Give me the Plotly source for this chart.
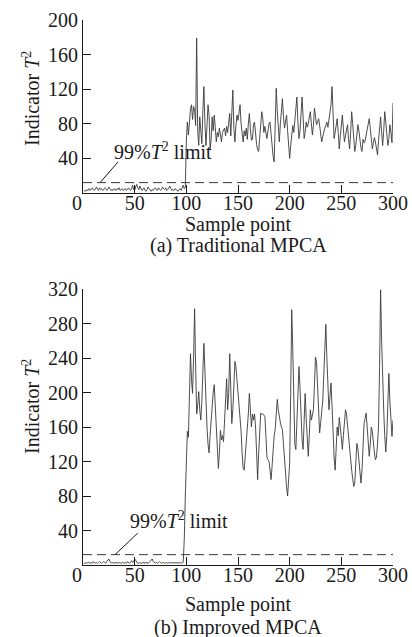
import plotly.graph_objects as go

# ---------------- data ----------------
sample_points = list(range(1, 301))

t2_traditional = [
    2, 3, 2, 4, 3, 5, 3, 4, 6, 4,
    3, 5, 7, 4, 3, 6, 4, 5, 3, 4,
    6, 5, 3, 4, 7, 5, 3, 4, 3, 5,
    4, 3, 5, 4, 6, 3, 4, 5, 3, 4,
    5, 3, 4, 6, 4, 3, 5, 9, 4, 3,
    7, 10, 6, 4, 8, 5, 3, 4, 6, 3,
    2, 4, 7, 5, 3, 2, 4, 3, 5, 6,
    4, 3, 6, 5, 3, 4, 7, 5, 4, 6,
    3, 4, 6, 8, 5, 3, 4, 3, 5, 4,
    3, 2, 4, 5, 3, 7, 9, 5, 6, 60,
    82, 67, 88, 97, 102, 85, 100, 96, 78, 179,
    72, 55, 88, 70, 57, 95, 123, 80, 55, 78,
    102, 90, 50, 62, 88, 72, 90, 76, 59, 70,
    65, 75, 68, 59, 70, 72, 75, 66, 77, 70,
    84, 92, 66, 95, 119, 75, 59, 78, 90, 84,
    95, 102, 80, 68, 59, 72, 66, 75, 62, 80,
    92, 74, 61, 62, 79, 82, 66, 56, 50, 48,
    64, 82, 94, 86, 70, 77, 68, 63, 72, 80,
    82, 66, 50, 42, 36, 70, 121, 95, 72, 59,
    80, 98, 109, 88, 75, 82, 90, 72, 51, 40,
    55, 70, 78, 70, 84, 100, 111, 82, 63, 72,
    95, 111, 88, 63, 70, 82, 76, 80, 88, 94,
    80, 67, 78, 98, 88, 79, 82, 86, 78, 70,
    59, 65, 72, 75, 78, 82, 76, 85, 90, 102,
    123, 90, 63, 70, 80, 86, 70, 51, 66, 82,
    90, 74, 59, 66, 72, 79, 62, 51, 70, 94,
    80, 62, 48, 55, 68, 79, 72, 60, 52, 48,
    62, 58, 60, 67, 74, 80, 86, 75, 62, 51,
    58, 64, 59, 50, 44, 60, 79, 88, 70, 55,
    72, 94, 82, 66, 55, 62, 79, 70, 58, 104,
]

t2_improved = [
    2, 2, 3, 2, 3, 2, 2, 3, 2, 4,
    3, 2, 3, 2, 3, 4, 3, 2, 3, 4,
    3, 2, 4, 5, 7, 4, 3, 2, 3, 2,
    2, 3, 2, 2, 3, 2, 2, 3, 2, 2,
    3, 2, 4, 3, 2, 3, 5, 3, 4, 7,
    5, 3, 2, 2, 3, 2, 2, 3, 2, 2,
    3, 2, 2, 3, 4, 6, 7, 4, 3, 2,
    3, 2, 3, 4, 3, 2, 3, 2, 2, 3,
    2, 2, 3, 2, 3, 2, 2, 3, 2, 3,
    2, 2, 3, 2, 3, 2, 3, 30, 80, 135,
    155, 148, 200, 245, 215, 199, 240, 297, 230, 175,
    185, 201, 180, 168, 190, 230, 257, 225, 185, 160,
    140, 130, 150, 170, 185, 200, 209, 180, 150, 125,
    112, 130, 156, 145, 150, 143, 175, 200, 216, 180,
    200, 245, 210, 164, 180, 210, 236, 230, 215, 200,
    195, 180, 155, 130, 112, 110, 125, 150, 165, 175,
    199, 180, 160, 175, 168, 175, 160, 130, 99, 130,
    165, 176, 175, 175, 174, 172, 150, 125, 122, 120,
    110, 99, 115, 135, 150, 157, 170, 192, 180, 170,
    165, 160, 157, 140, 120, 102, 90, 80, 95, 118,
    200, 296, 250, 180, 140, 134, 160, 200, 230, 205,
    161, 145, 134, 160, 199, 170, 140, 126, 150, 180,
    168, 175, 180, 210, 241, 235, 211, 180, 153, 165,
    180, 190, 220, 250, 279, 240, 200, 180, 195, 211,
    185, 150, 125, 110, 130, 160, 150, 171, 160, 150,
    134, 150, 165, 180, 175, 160, 145, 130, 120, 110,
    100, 91, 95, 115, 141, 135, 120, 105, 95, 110,
    135, 164, 170, 176, 160, 140, 126, 140, 160, 155,
    140, 130, 122, 125, 140, 160, 230, 319, 260, 211,
    180, 150, 131, 150, 185, 222, 190, 160, 149, 168,
]

limit_traditional = 12
limit_improved = 12

x_ticks = [50, 100, 150, 200, 250, 300]
x_tick_text = ["50", "100", "150", "200", "250", "300"]
y_ticks_a = [40, 80, 120, 160, 200]
y_ticks_b = [40, 80, 120, 160, 200, 240, 280, 320]

# ---------------- figure ----------------
W, H = 412, 637
FONT = "Liberation Serif"
FS = 20
INK = "#1a1a1a"
LINE = "#3a3a3a"


def py(px):
    return 1 - px / H


fig = go.Figure()
fig.add_trace(go.Scatter(x=sample_points, y=t2_traditional, mode="lines",
                         line=dict(color=LINE, width=0.9), xaxis="x", yaxis="y",
                         showlegend=False, hoverinfo="skip"))
fig.add_trace(go.Scatter(x=sample_points, y=t2_improved, mode="lines",
                         line=dict(color=LINE, width=0.9), xaxis="x2", yaxis="y2",
                         showlegend=False, hoverinfo="skip"))

xdom = [83 / W, 393 / W]
axis_common = dict(showgrid=False, zeroline=False, showline=True, linecolor=INK,
                   linewidth=1, ticks="inside", ticklen=8, tickcolor=INK, tickwidth=1,
                   automargin=False,
                   tickfont=dict(family=FONT, size=FS, color=INK))

fig.update_layout(
    autosize=True, margin=dict(l=0, r=0, t=0, b=0),
    paper_bgcolor="white", plot_bgcolor="white",
    font=dict(family=FONT, size=FS, color=INK),
    xaxis=dict(domain=xdom, range=[0, 300], tickvals=x_ticks, ticktext=x_tick_text,
               anchor="y", ticklabelstandoff=-8, **axis_common),
    yaxis=dict(domain=[py(193), py(20)], range=[0, 200], tickvals=y_ticks_a,
               anchor="x", **axis_common),
    xaxis2=dict(domain=xdom, range=[0, 300], tickvals=x_ticks, ticktext=x_tick_text,
                anchor="y2", ticklabelstandoff=-8, **axis_common),
    yaxis2=dict(domain=[py(565), py(289)], range=[0, 320], tickvals=y_ticks_b,
                anchor="x2", **axis_common),
)

dash = "9px,5px"
fig.add_shape(type="line", xref="x domain", yref="y", x0=0, x1=1,
              y0=limit_traditional, y1=limit_traditional,
              line=dict(color=LINE, width=1, dash=dash))
fig.add_shape(type="line", xref="x2 domain", yref="y2", x0=0, x1=1,
              y0=limit_improved, y1=limit_improved,
              line=dict(color=LINE, width=1, dash=dash))
# leader lines
fig.add_shape(type="line", xref="x", yref="y", x0=16.5, y0=limit_traditional, x1=34, y1=36,
              line=dict(color=INK, width=1))
fig.add_shape(type="line", xref="x2", yref="y2", x0=31, y0=limit_improved, x1=53, y1=37,
              line=dict(color=INK, width=1))

label = "99%<i>T</i><sup>2</sup> limit"
fig.add_annotation(text=label, xref="x", yref="y", x=77, y=49, showarrow=False,
                   xanchor="center", yanchor="middle", font=dict(family=FONT, size=FS, color=INK))
fig.add_annotation(text=label, xref="x2", yref="y2", x=93, y=52, showarrow=False,
                   xanchor="center", yanchor="middle", font=dict(family=FONT, size=FS, color=INK))

ytitle = "Indicator <i>T</i><sup>2</sup>"
for yc in (98, 406):
    fig.add_annotation(text=ytitle, xref="paper", yref="paper", x=31 / W, y=py(yc),
                       textangle=-90, showarrow=False, xanchor="center", yanchor="middle",
                       font=dict(family=FONT, size=FS, color=INK))

# corner "0" labels
for yc in (203, 575):
    fig.add_annotation(text="0", xref="paper", yref="paper", x=76.5 / W, y=py(yc),
                       showarrow=False, xanchor="center", yanchor="middle",
                       font=dict(family=FONT, size=FS, color=INK))

# x titles and captions
for text, yc in (("Sample point", 224), ("(a) Traditional MPCA", 246),
                 ("Sample point", 604), ("(b) Improved MPCA", 627)):
    fig.add_annotation(text=text, xref="paper", yref="paper", x=238 / W, y=py(yc),
                       showarrow=False, xanchor="center", yanchor="middle",
                       font=dict(family=FONT, size=FS, color=INK))

fig.write_html(
    "out.html",
    default_width="100vw",
    default_height="100vh",
    config={"displayModeBar": False},
    post_script="document.body.style.margin='0';document.body.style.overflow='hidden';",
)
